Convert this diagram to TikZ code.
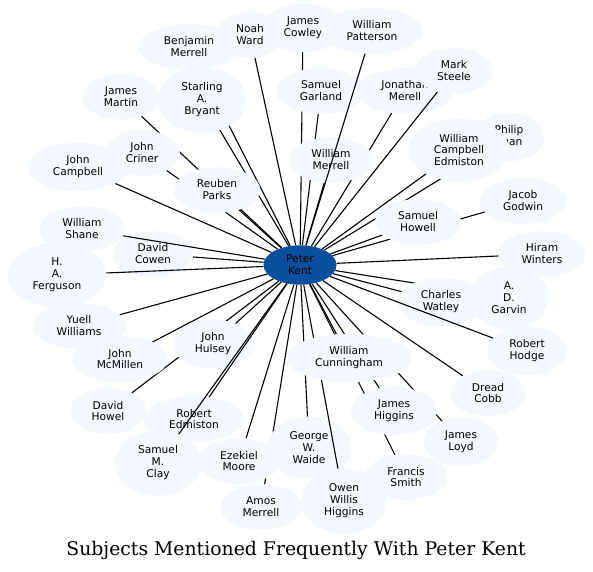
\documentclass[tikz,border=0pt]{standalone}
\usepackage{fontspec}
\setmainfont{DejaVu Serif}
\newfontfamily\pknodefont{DejaVu Sans}
\usetikzlibrary{shapes.geometric,backgrounds}
\definecolor{pkNavy}{HTML}{0A4F9E}
\definecolor{pkPale}{HTML}{F3F8FE}
\tikzset{
  pk edge/.style={draw=black, line width=1.1bp},
  pk node/.style={ellipse, fill=pkPale, align=center, inner xsep=10.5bp, inner ysep=6bp,
    font=\pknodefont\fontsize{10.7}{12}\selectfont},
  pk hub/.style={pk node, fill=pkNavy, inner ysep=4bp, minimum width=73bp},
  pk title/.style={font=\fontsize{18.9}{22}\selectfont},
}

\begin{document}
\begin{tikzpicture}[x=1bp,y=-1bp]
  \useasboundingbox (0,0) rectangle (593,572);
  % centre
  \node[pk hub] (kent) at (300,265) {Peter\\Kent};
  % top
  \node[pk node] (jcowley) at (303,28) {James\\Cowley};
  \node[pk node] (nward) at (250,35) {Noah\\Ward};
  \node[pk node] (bmerrell) at (189,47) {Benjamin\\Merrell};
  \node[pk node] (wpatterson) at (372,31) {William\\Patterson};
  \node[pk node] (sgarland) at (321,91) {Samuel\\Garland};
  \node[pk node] (jmerell) at (405,91) {Jonathan\\Merell};
  \node[pk node] (msteele) at (454,71) {Mark\\Steele};
  \node[pk node] (jmartin) at (121,97) {James\\Martin};
  \node[pk node] (sbryant) at (202,100) {Starling\\A.\\Bryant};
  \node[pk node] (jcriner) at (142,153) {John\\Criner};
  \node[pk node] (jcampbell) at (78,167) {John\\Campbell};
  \node[pk node] (rparks) at (217,190) {Reuben\\Parks};
  \node[pk node] (wmerrell) at (331,160) {William\\Merrell};
  \node[pk node] (pegan) at (509,137) {Philip\\Egan};
  \node[pk node] (wedmiston) at (459,150) {William\\Campbell\\Edmiston};
  \node[pk node] (showell) at (418,222) {Samuel\\Howell};
  \node[pk node] (jgodwin) at (523,201) {Jacob\\Godwin};
  % sides
  \node[pk node] (wshane) at (82,229) {William\\Shane};
  \node[pk node] (dcowen) at (153,254) {David\\Cowen};
  \node[pk node] (hferguson) at (57,275) {H.\\A.\\Ferguson};
  \node[pk node] (hwinters) at (542,254) {Hiram\\Winters};
  \node[pk node] (dgarvin) at (509,298) {A.\\D.\\Garvin};
  \node[pk node] (cwatley) at (441,302) {Charles\\Watley};
  \node[pk node] (ywilliams) at (79,326) {Yuell\\Williams};
  \node[pk node] (jmcmillen) at (120,359) {John\\McMillen};
  \node[pk node] (jhulsey) at (213,344) {John\\Hulsey};
  \node[pk node] (rhodge) at (527,351) {Robert\\Hodge};
  \node[pk node] (dcobb) at (488,393) {Dread\\Cobb};
  % bottom
  \node[pk node] (dhowel) at (108,411) {David\\Howel};
  \node[pk node] (redmiston) at (194,419) {Robert\\Edmiston};
  \node[pk node] (jhiggins) at (394,411) {James\\Higgins};
  \node[pk node] (jloyd) at (461,442) {James\\Loyd};
  \node[pk node] (sclay) at (158,463) {Samuel\\M.\\Clay};
  \node[pk node] (emoore) at (239,461) {Ezekiel\\Moore};
  \node[pk node] (gwaide) at (309,448) {George\\W.\\Waide};
  \node[pk node] (fsmith) at (406,477) {Francis\\Smith};
  \node[pk node] (amerrell) at (261,507) {Amos\\Merrell};
  \node[pk node] (ohiggins) at (344,501) {Owen\\Willis\\Higgins};
  \draw[pk edge] (kent) -- (ohiggins);
  \node[pk node] (wcunningham) at (349,358) {William\\Cunningham};
  % edges hidden under the nodes
  \begin{scope}[on background layer]
    \foreach \n in {jcowley,nward,bmerrell,sgarland,jmerell,jmartin,sbryant,jcriner,
        jcampbell,rparks,wmerrell,pegan,wedmiston,showell,jgodwin,dcowen,hwinters,
        dgarvin,cwatley,ywilliams,jmcmillen,jhulsey,dcobb,dhowel,jhiggins,jloyd,
        emoore,gwaide,fsmith,amerrell,wcunningham}
      \draw[pk edge] (kent) -- (\n);
  \end{scope}
  % edges drawn over the nodes they cross
  \foreach \n in {wpatterson,msteele,wshane,hferguson,redmiston,sclay,rhodge}
    \draw[pk edge] (kent) -- (\n);
  \node[pk title] (title) at (296,550) {Subjects Mentioned Frequently With Peter Kent};
\end{tikzpicture}
\end{document}
